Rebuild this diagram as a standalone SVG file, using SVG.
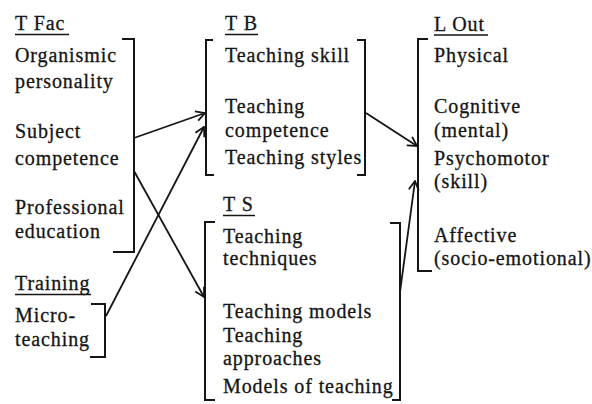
<svg xmlns="http://www.w3.org/2000/svg" width="592" height="404" viewBox="0 0 592 404">
<defs>
<style>
text{font-family:"Liberation Serif","Times New Roman",serif;font-size:20px;letter-spacing:0.9px;fill:#151515;stroke:#151515;stroke-width:0.3}
.br{fill:none;stroke:#151515;stroke-width:2}
.ul{stroke:#151515;stroke-width:1.5}
.cn{fill:none;stroke:#151515;stroke-width:1.8}
</style>
<marker id="ah" viewBox="0 0 12 12" refX="11" refY="6" markerWidth="12" markerHeight="12" markerUnits="userSpaceOnUse" orient="auto">
<path d="M2,1 L11,6 L2,11" fill="none" stroke="#151515" stroke-width="1.8"/>
</marker>
</defs>
<rect width="592" height="404" fill="#ffffff"/>
<g id="tfac">
<text x="15" y="30">T Fac</text>
<line class="ul" x1="15" y1="34.5" x2="69" y2="34.5"/>
<text x="15" y="62">Organismic</text>
<text x="15" y="88">personality</text>
<text x="15" y="138">Subject</text>
<text x="15" y="165">competence</text>
<text x="15" y="214">Professional</text>
<text x="15" y="238">education</text>
<polyline class="br" points="122,39 134,39 134,252 113,252"/>
</g>
<g id="training">
<text x="15" y="290">Training</text>
<line class="ul" x1="15" y1="294.5" x2="91" y2="294.5"/>
<text x="15" y="322">Micro-</text>
<text x="15" y="346">teaching</text>
<polyline class="br" points="91,304 105,304 105,357 90,357"/>
</g>
<g id="tb">
<text x="225" y="30">T B</text>
<line class="ul" x1="225" y1="34.5" x2="258" y2="34.5"/>
<text x="225" y="62">Teaching skill</text>
<text x="225" y="113">Teaching</text>
<text x="225" y="137">competence</text>
<text x="225" y="164">Teaching styles</text>
<polyline class="br" points="213,40 206,40 206,175 214,175"/>
<polyline class="br" points="357,40 365,40 365,175 357,175"/>
</g>
<g id="ts">
<text x="223" y="211">T S</text>
<line class="ul" x1="223" y1="215.5" x2="255" y2="215.5"/>
<text x="223" y="243">Teaching</text>
<text x="223" y="265">techniques</text>
<text x="223" y="318">Teaching models</text>
<text x="223" y="342">Teaching</text>
<text x="223" y="365">approaches</text>
<text x="223" y="393">Models of teaching</text>
<polyline class="br" points="215,222 205,222 205,400 215,400"/>
<polyline class="br" points="390,223 400,223 400,400 392,400"/>
</g>
<g id="lout">
<text x="434" y="31">L Out</text>
<line class="ul" x1="434" y1="35" x2="488" y2="35"/>
<text x="434" y="62">Physical</text>
<text x="434" y="113">Cognitive</text>
<text x="434" y="137">(mental)</text>
<text x="434" y="165">Psychomotor</text>
<text x="434" y="188">(skill)</text>
<text x="434" y="242">Affective</text>
<text x="434" y="265">(socio-emotional)</text>
<polyline class="br" points="428,39 418,39 418,271 432,271"/>
</g>
<g id="connectors">
<line class="cn" x1="134" y1="138" x2="205" y2="113" marker-end="url(#ah)"/>
<line class="cn" x1="134" y1="171" x2="204" y2="297" marker-end="url(#ah)"/>
<line class="cn" x1="106" y1="316" x2="204" y2="127" marker-end="url(#ah)"/>
<line class="cn" x1="366" y1="113" x2="417" y2="146" marker-end="url(#ah)"/>
<line class="cn" x1="400" y1="292" x2="415" y2="181" marker-end="url(#ah)"/>
</g>
</svg>
